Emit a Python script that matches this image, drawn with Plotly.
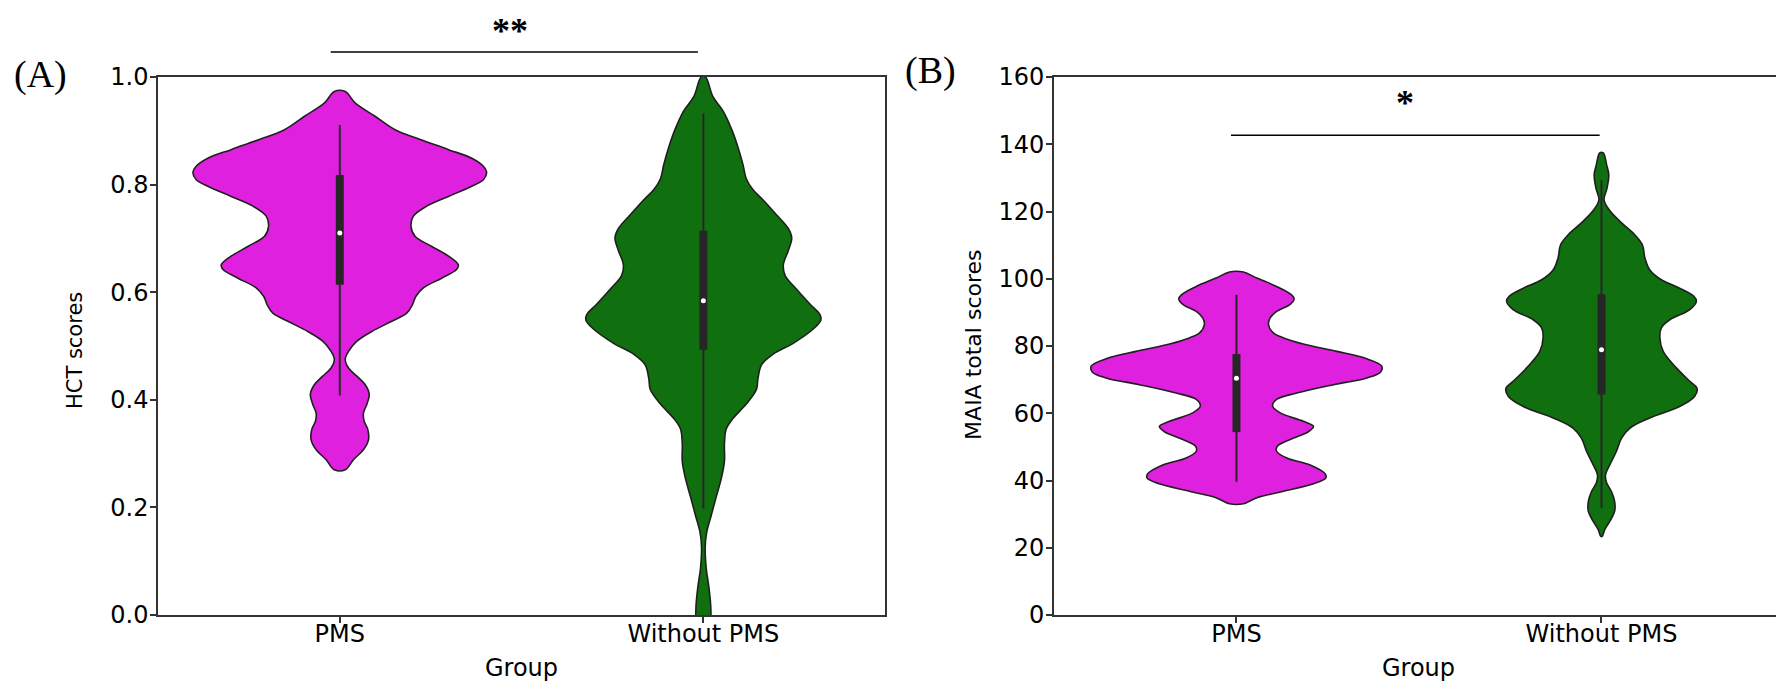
import plotly.graph_objects as go

groups = ["PMS", "Without PMS"]
colors = ["#DF20DF", "#107010"]

# (A) HCT scores: violin outline (score, half width in category units)
hct_pms_score = [0.973, 0.952, 0.927, 0.902, 0.884, 0.865, 0.849, 0.834, 0.823, 0.809,
                 0.797, 0.778, 0.760, 0.741, 0.722, 0.704, 0.685, 0.667, 0.651, 0.642,
                 0.626, 0.608, 0.592, 0.577, 0.561, 0.546, 0.527, 0.509, 0.490, 0.475,
                 0.459, 0.444, 0.428, 0.410, 0.391, 0.375, 0.360, 0.345, 0.326, 0.307,
                 0.289, 0.270]
hct_pms_width = [0.015, 0.042, 0.097, 0.152, 0.221, 0.299, 0.363, 0.395, 0.404, 0.395,
                 0.363, 0.299, 0.239, 0.202, 0.196, 0.207, 0.253, 0.299, 0.326, 0.321,
                 0.280, 0.230, 0.209, 0.200, 0.184, 0.143, 0.088, 0.047, 0.024, 0.015,
                 0.024, 0.047, 0.070, 0.081, 0.074, 0.065, 0.067, 0.077, 0.079, 0.065,
                 0.038, 0.015]
hct_without_score = [1.000, 0.964, 0.937, 0.904, 0.870, 0.837, 0.811, 0.791, 0.771, 0.744,
                     0.718, 0.701, 0.678, 0.651, 0.631, 0.605, 0.578, 0.558, 0.548, 0.532,
                     0.505, 0.485, 0.465, 0.439, 0.419, 0.392, 0.365, 0.346, 0.319, 0.286,
                     0.253, 0.219, 0.186, 0.153, 0.126, 0.086, 0.053, 0.020, 0.000, -0.020]
hct_without_width = [0.006, 0.026, 0.054, 0.077, 0.095, 0.109, 0.118, 0.136, 0.165, 0.201,
                     0.234, 0.243, 0.234, 0.220, 0.225, 0.257, 0.293, 0.321, 0.323, 0.303,
                     0.247, 0.192, 0.160, 0.150, 0.146, 0.118, 0.081, 0.063, 0.058, 0.058,
                     0.049, 0.035, 0.022, 0.009, 0.005, 0.008, 0.015, 0.020, 0.021, 0.022]
hct_low = [0.408, 0.198]
hct_q1 = [0.614, 0.493]
hct_median = [0.710, 0.584]
hct_q3 = [0.818, 0.714]
hct_high = [0.911, 0.932]

# (B) MAIA total scores
maia_pms_score = [102.0, 100.2, 97.7, 95.2, 94.0, 92.4, 90.3, 88.3, 86.3, 83.9,
                  82.4, 80.6, 78.4, 76.2, 74.0, 72.3, 70.5, 68.5, 66.0, 64.1,
                  62.1, 60.1, 57.6, 56.1, 54.5, 52.2, 50.2, 48.7, 46.7, 44.6,
                  42.0, 40.8, 39.0, 36.8, 34.9, 33.1]
maia_pms_width = [0.019, 0.056, 0.110, 0.151, 0.158, 0.147, 0.110, 0.092, 0.088, 0.101,
                  0.129, 0.183, 0.275, 0.357, 0.398, 0.395, 0.357, 0.266, 0.165, 0.110,
                  0.099, 0.120, 0.183, 0.211, 0.197, 0.147, 0.112, 0.110, 0.138, 0.202,
                  0.243, 0.245, 0.211, 0.129, 0.056, 0.019]
maia_without_score = [137.4, 133.9, 130.9, 126.9, 123.5, 120.5, 116.6, 113.1, 110.1, 106.2,
                      102.7, 99.7, 97.2, 94.8, 93.3, 90.8, 87.8, 85.4, 82.4, 78.4,
                      73.5, 69.5, 67.3, 65.0, 62.0, 58.6, 55.6, 52.6, 48.7, 44.7,
                      41.7, 39.3, 36.8, 33.8, 30.8, 27.9, 25.4, 23.4]
maia_without_width = [0.005, 0.014, 0.020, 0.015, 0.007, 0.021, 0.055, 0.091, 0.112, 0.119,
                      0.132, 0.164, 0.214, 0.253, 0.260, 0.242, 0.187, 0.164, 0.160, 0.169,
                      0.205, 0.242, 0.262, 0.255, 0.214, 0.132, 0.078, 0.055, 0.041, 0.023,
                      0.011, 0.014, 0.027, 0.036, 0.036, 0.023, 0.009, 0.002]
maia_low = [39.6, 31.8]
maia_q1 = [54.4, 65.6]
maia_median = [70.4, 78.9]
maia_q3 = [77.6, 95.4]
maia_high = [95.2, 129.3]

X_RANGE = [-0.5, 1.5]
HCT_RANGE = [0, 1]
MAIA_RANGE = [0, 160]

EDGE = "#1f1f1f"
BOX = "#262626"
SPINE = "#333333"
FONT = "DejaVu Sans"


def violin_outline(pos, score, width):
    xs = [pos - w for w in width] + [pos + w for w in reversed(width)]
    ys = list(score) + list(reversed(score))
    xs.append(xs[0])
    ys.append(ys[0])
    return xs, ys


fig = go.Figure()

panels = [
    ("x", "y", [(hct_pms_score, hct_pms_width), (hct_without_score, hct_without_width)],
     hct_low, hct_q1, hct_median, hct_q3, hct_high),
    ("x2", "y2", [(maia_pms_score, maia_pms_width), (maia_without_score, maia_without_width)],
     maia_low, maia_q1, maia_median, maia_q3, maia_high),
]

for xa, ya, outlines, low, q1, med, q3, high in panels:
    for i, (score, width) in enumerate(outlines):
        xs, ys = violin_outline(i, score, width)
        fig.add_trace(go.Scatter(
            x=xs, y=ys, xaxis=xa, yaxis=ya, mode="lines",
            line=dict(color=EDGE, width=1.6, shape="spline", smoothing=1.0),
            fill="toself", fillcolor=colors[i], hoverinfo="skip"))
        # seaborn-style inner box: thin whisker, thick quartile bar, white median dot
        fig.add_trace(go.Scatter(
            x=[i, i], y=[low[i], high[i]], xaxis=xa, yaxis=ya, mode="lines",
            line=dict(color=BOX, width=2), hoverinfo="skip"))
        fig.add_trace(go.Scatter(
            x=[i, i], y=[q1[i], q3[i]], xaxis=xa, yaxis=ya, mode="lines",
            line=dict(color=BOX, width=8), hoverinfo="skip"))
        fig.add_trace(go.Scatter(
            x=[i], y=[med[i]], xaxis=xa, yaxis=ya, mode="markers",
            marker=dict(color="white", size=5, line=dict(width=0)), hoverinfo="skip"))


def dom(v, rng):
    return (v - rng[0]) / (rng[1] - rng[0])


# significance brackets
fig.add_shape(type="line", xref="x domain", yref="y domain",
              x0=dom(-0.025, X_RANGE), x1=dom(0.985, X_RANGE),
              y0=dom(1.0465, HCT_RANGE), y1=dom(1.0465, HCT_RANGE),
              line=dict(color="black", width=1.5))
fig.add_shape(type="line", xref="x2", yref="y2", x0=-0.015, x1=0.995, y0=142.7, y1=142.7,
              line=dict(color="black", width=1.5))

axis_common = dict(showline=True, mirror=True, linecolor=SPINE, linewidth=1.5,
                   ticks="outside", ticklen=6, tickwidth=1.5, tickcolor=SPINE,
                   showgrid=False, zeroline=False,
                   tickfont=dict(family=FONT, size=24, color="black"))

fig.update_layout(
    width=1784, height=681,
    margin=dict(l=150, r=6, t=69, b=74),
    paper_bgcolor="white", plot_bgcolor="white",
    showlegend=False,
    xaxis=dict(domain=[0, 0.4472], range=X_RANGE, tickvals=[0, 1], ticktext=groups,
               anchor="y", ticklabelstandoff=-10, **axis_common),
    yaxis=dict(domain=[0, 1], range=HCT_RANGE, tickvals=[0, 0.2, 0.4, 0.6, 0.8, 1.0],
               tickformat=".1f", anchor="x", ticklabelstandoff=-3, **axis_common),
    xaxis2=dict(domain=[0.5510, 1.0], range=X_RANGE, tickvals=[0, 1], ticktext=groups,
                anchor="y2", ticklabelstandoff=-10, **axis_common),
    yaxis2=dict(domain=[0, 1], range=MAIA_RANGE, dtick=20, anchor="x2",
                ticklabelstandoff=-3, **axis_common),
)

star_font = dict(family="Liberation Serif", size=36, color="black")
panel_font = dict(family="Liberation Serif", size=38, color="black")
label_font = dict(family=FONT, size=24, color="black")
annotations = [
    dict(text="<b>**</b>", x=dom(0.467, X_RANGE), y=dom(1.126, HCT_RANGE),
         xref="x domain", yref="y domain", font=star_font, yanchor="top"),
    dict(text="<b>*</b>", x=0.462, y=152.3, xref="x2", yref="y2", font=star_font),
    dict(text="(A)", x=-0.0725, y=1.004, xref="paper", yref="paper", font=panel_font),
    dict(text="(B)", x=0.4748, y=1.013, xref="paper", yref="paper", font=panel_font),
    dict(text="HCT scores", x=-0.051, y=0.4907, xref="paper", yref="paper", textangle=-90,
         font=dict(family=FONT, size=21, color="black")),
    dict(text="MAIA total scores", x=0.5018, y=0.5019, xref="paper", yref="paper",
         textangle=-90, font=dict(family=FONT, size=22, color="black")),
    dict(text="Group", x=0.2236, y=-0.0985, xref="paper", yref="paper", font=label_font),
    dict(text="Group", x=0.7752, y=-0.0985, xref="paper", yref="paper", font=label_font),
]
for a in annotations:
    a.setdefault("yanchor", "middle")
    a.update(showarrow=False, xanchor="center")
fig.update_layout(annotations=annotations)

fig.write_html("out.html")
